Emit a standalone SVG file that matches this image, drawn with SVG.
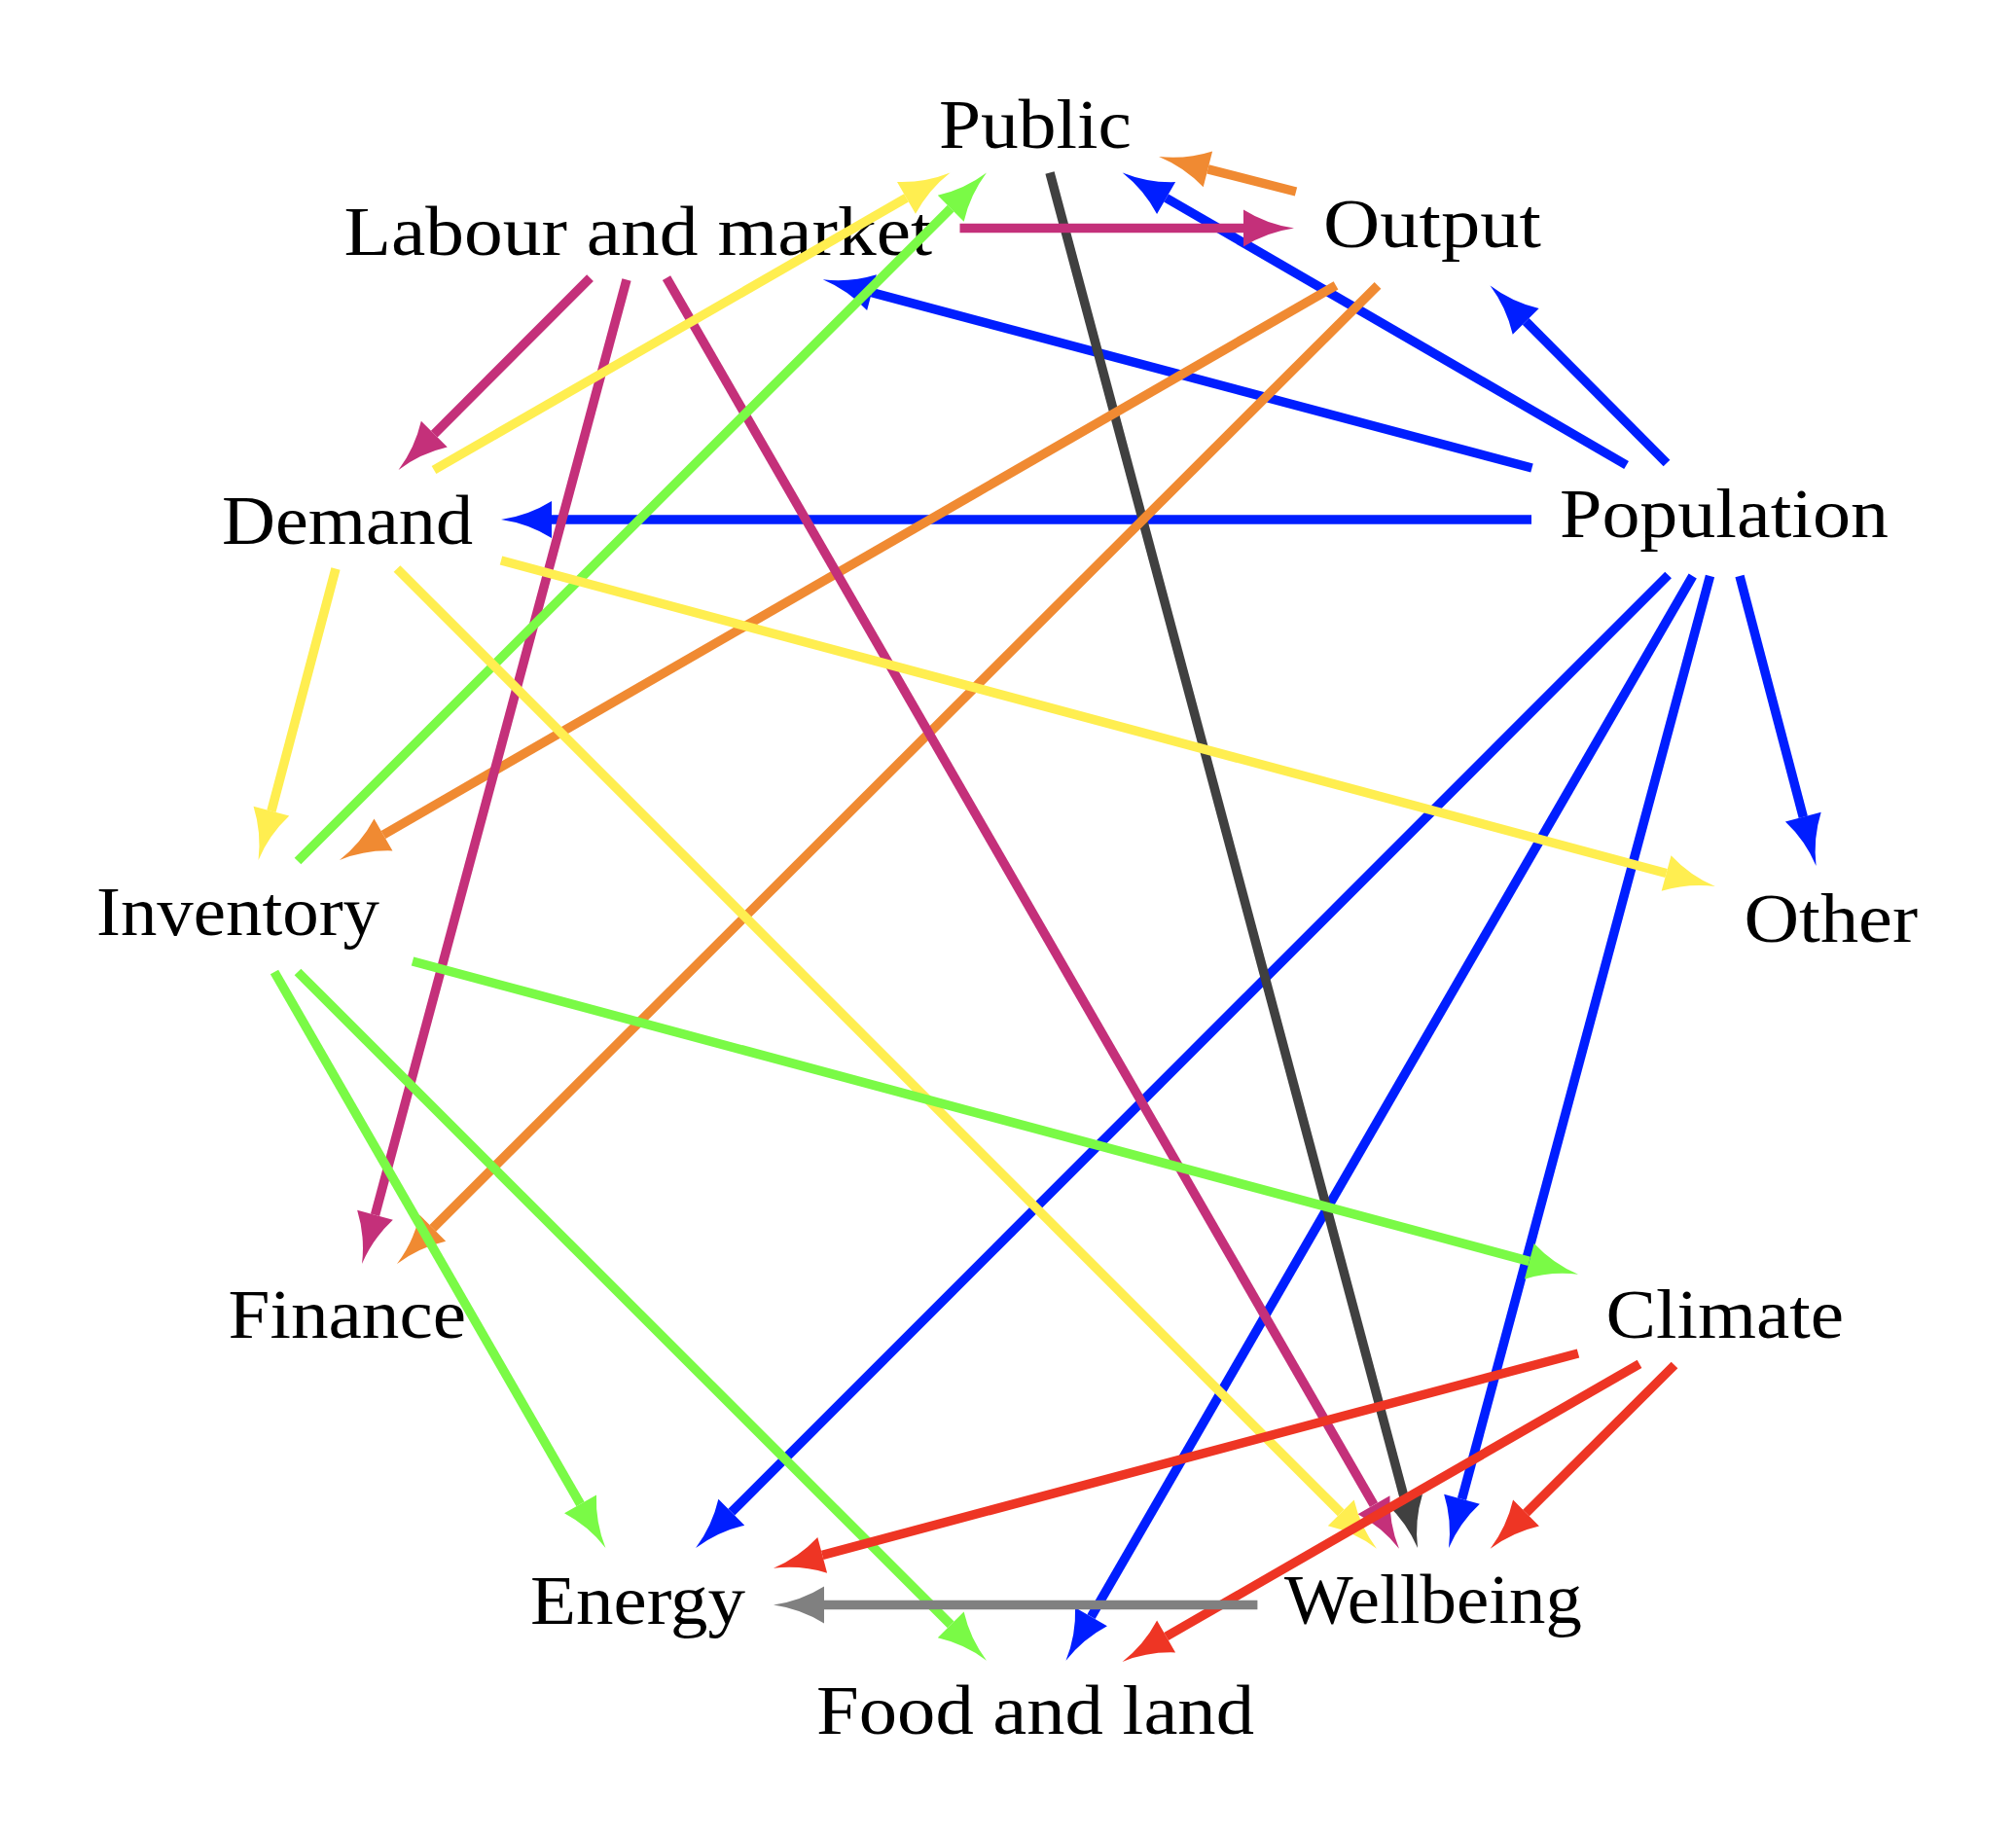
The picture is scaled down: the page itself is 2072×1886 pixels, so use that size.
<svg xmlns="http://www.w3.org/2000/svg" width="2072" height="1886" viewBox="0 0 2072 1886">
<style>
text{font-family:"Liberation Serif","DejaVu Serif",serif;font-size:71px;fill:#000}
.e{fill:none;stroke-width:9.5;stroke-linecap:butt}
.blue{stroke:#001EFF}.mag{stroke:#C4307A}.ora{stroke:#F08A32}.yel{stroke:#FFEE50}
.grn{stroke:#7AFA46}.red{stroke:#EE3524}.dk{stroke:#404040}.gr{stroke:#808080}
</style>
<defs>
<path id="ah" d="M52,0 Q24,-4 0,-19 L0,19 Q24,4 52,0 Z"/>
<marker id="mBlue" markerUnits="userSpaceOnUse" markerWidth="60" markerHeight="44" viewBox="-2 -22 60 44" refX="0" refY="0" orient="auto"><use href="#ah" fill="#001EFF"/></marker>
<marker id="mMag" markerUnits="userSpaceOnUse" markerWidth="60" markerHeight="44" viewBox="-2 -22 60 44" refX="0" refY="0" orient="auto"><use href="#ah" fill="#C4307A"/></marker>
<marker id="mOra" markerUnits="userSpaceOnUse" markerWidth="60" markerHeight="44" viewBox="-2 -22 60 44" refX="0" refY="0" orient="auto"><use href="#ah" fill="#F08A32"/></marker>
<marker id="mYel" markerUnits="userSpaceOnUse" markerWidth="60" markerHeight="44" viewBox="-2 -22 60 44" refX="0" refY="0" orient="auto"><use href="#ah" fill="#FFEE50"/></marker>
<marker id="mGrn" markerUnits="userSpaceOnUse" markerWidth="60" markerHeight="44" viewBox="-2 -22 60 44" refX="0" refY="0" orient="auto"><use href="#ah" fill="#7AFA46"/></marker>
<marker id="mRed" markerUnits="userSpaceOnUse" markerWidth="60" markerHeight="44" viewBox="-2 -22 60 44" refX="0" refY="0" orient="auto"><use href="#ah" fill="#EE3524"/></marker>
<marker id="mDk" markerUnits="userSpaceOnUse" markerWidth="60" markerHeight="44" viewBox="-2 -22 60 44" refX="0" refY="0" orient="auto"><use href="#ah" fill="#404040"/></marker>
<marker id="mGr" markerUnits="userSpaceOnUse" markerWidth="60" markerHeight="44" viewBox="-2 -22 60 44" refX="0" refY="0" orient="auto"><use href="#ah" fill="#808080"/></marker>
</defs>
<rect width="2072" height="1886" fill="#fff"/>
<g id="nodes">
<g id="public"><text x="965" y="152" textLength="198" lengthAdjust="spacingAndGlyphs">Public</text></g>
<g id="labour"><text x="353.5" y="262" textLength="604.5" lengthAdjust="spacingAndGlyphs">Labour and market</text></g>
<g id="output"><text x="1360" y="254" textLength="224" lengthAdjust="spacingAndGlyphs">Output</text></g>
<g id="population"><text x="1603" y="552" textLength="338" lengthAdjust="spacingAndGlyphs">Population</text></g>
<g id="demand"><text x="228" y="559" textLength="258" lengthAdjust="spacingAndGlyphs">Demand</text></g>
<g id="other"><text x="1792.5" y="968" textLength="178.5" lengthAdjust="spacingAndGlyphs">Other</text></g>
<g id="inventory"><text x="99" y="961" textLength="291" lengthAdjust="spacingAndGlyphs">Inventory</text></g>
<g id="finance"><text x="234.5" y="1375" textLength="244.5" lengthAdjust="spacingAndGlyphs">Finance</text></g>
<g id="climate"><text x="1650.5" y="1375" textLength="244.5" lengthAdjust="spacingAndGlyphs">Climate</text></g>
<g id="energy"><text x="545" y="1669" textLength="221" lengthAdjust="spacingAndGlyphs">Energy</text></g>
<g id="wellbeing"><text x="1320" y="1668" textLength="306" lengthAdjust="spacingAndGlyphs">Wellbeing</text></g>
<g id="food"><text x="839" y="1782" textLength="450" lengthAdjust="spacingAndGlyphs">Food and land</text></g>
</g>
<g id="connectors">
<line class="e blue" x1="1574" y1="534" x2="567" y2="534" marker-end="url(#mBlue)"/>
<line class="e blue" x1="1574.5" y1="481" x2="896" y2="300.7" marker-end="url(#mBlue)"/>
<line class="e blue" x1="1671.6" y1="478" x2="1198.6" y2="203.5" marker-end="url(#mBlue)"/>
<line class="e blue" x1="1713" y1="476" x2="1568.2" y2="330.3" marker-end="url(#mBlue)"/>
<line class="e blue" x1="1788" y1="592" x2="1853.3" y2="839.7" marker-end="url(#mBlue)"/>
<line class="e blue" x1="1714.6" y1="591" x2="751.8" y2="1554.2" marker-end="url(#mBlue)"/>
<line class="e blue" x1="1739.7" y1="592" x2="1121.5" y2="1661.7" marker-end="url(#mBlue)"/>
<line class="e blue" x1="1757.5" y1="592" x2="1502.5" y2="1540.8" marker-end="url(#mBlue)"/>
<line class="e dk" x1="1079" y1="177.4" x2="1443.6" y2="1540.8" marker-end="url(#mDk)"/>
<line class="e ora" x1="1332" y1="197" x2="1241.4" y2="173.9" marker-end="url(#mOra)"/>
<line class="e mag" x1="986.5" y1="234.5" x2="1278" y2="234.5" marker-end="url(#mMag)"/>
<line class="e ora" x1="1373" y1="293.4" x2="394" y2="858" marker-end="url(#mOra)"/>
<line class="e ora" x1="1416" y1="293.4" x2="444.8" y2="1262.3" marker-end="url(#mOra)"/>
<line class="e mag" x1="606.5" y1="285.6" x2="446.3" y2="446.1" marker-end="url(#mMag)"/>
<line class="e mag" x1="644" y1="287.4" x2="385.5" y2="1248.8" marker-end="url(#mMag)"/>
<line class="e mag" x1="685" y1="285.6" x2="1412" y2="1546.7" marker-end="url(#mMag)"/>
<line class="e yel" x1="446" y1="483" x2="931.5" y2="203.4" marker-end="url(#mYel)"/>
<line class="e grn" x1="306" y1="885" x2="977.2" y2="214.2" marker-end="url(#mGrn)"/>
<line class="e yel" x1="345" y1="584.5" x2="278.9" y2="833.7" marker-end="url(#mYel)"/>
<line class="e yel" x1="408" y1="584.5" x2="1378.2" y2="1554.9" marker-end="url(#mYel)"/>
<line class="e yel" x1="515" y1="576" x2="1712.6" y2="897.5" marker-end="url(#mYel)"/>
<line class="e grn" x1="424" y1="988" x2="1571.8" y2="1296.3" marker-end="url(#mGrn)"/>
<line class="e grn" x1="282" y1="999" x2="596.5" y2="1545.9" marker-end="url(#mGrn)"/>
<line class="e grn" x1="306" y1="999" x2="977.2" y2="1669.9" marker-end="url(#mGrn)"/>
<line class="e red" x1="1622" y1="1391" x2="845.2" y2="1598.3" marker-end="url(#mRed)"/>
<line class="e red" x1="1685" y1="1401.8" x2="1198.6" y2="1682" marker-end="url(#mRed)"/>
<line class="e red" x1="1721" y1="1403" x2="1568.5" y2="1555" marker-end="url(#mRed)"/>
<line class="e gr" x1="1292.4" y1="1649.6" x2="847" y2="1649.6" marker-end="url(#mGr)"/>
</g>
</svg>
